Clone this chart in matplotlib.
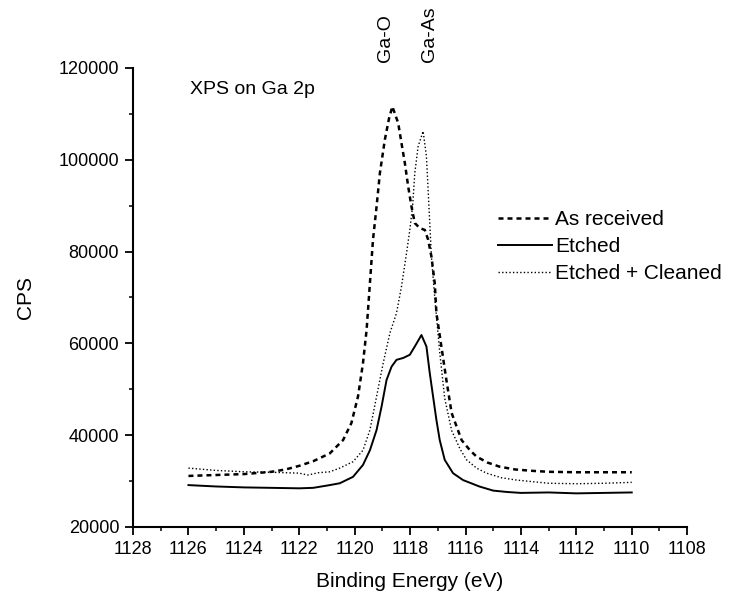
import matplotlib
matplotlib.use("Agg")
import matplotlib.pyplot as plt
from matplotlib.ticker import MultipleLocator

plt.rcParams['font.family'] = ['Liberation Sans', 'DejaVu Sans']

# Binding energy (eV) and counts per second for each sample
be_as_received = [1126.0, 1125.0, 1124.0, 1123.0, 1122.5, 1122.0, 1121.5, 1120.9,
                  1120.42, 1120.12, 1119.88, 1119.7, 1119.57, 1119.45, 1119.34,
                  1119.21, 1119.09, 1118.91, 1118.76, 1118.64, 1118.43, 1118.31,
                  1118.19, 1118.07, 1117.95, 1117.83, 1117.65, 1117.47, 1117.35,
                  1117.23, 1117.11, 1117.05, 1116.87, 1116.69, 1116.5, 1116.14,
                  1115.84, 1115.6, 1115.2, 1114.76, 1114.2, 1113.57, 1113.0,
                  1112.0, 1111.0, 1110.0]
cps_as_received = [31100, 31300, 31500, 32000, 32500, 33300, 34300, 36000,
                   38900, 42600, 48400, 55700, 62900, 73100, 82500,
                   89800, 97100, 104400, 109000, 111600, 108000, 103600,
                   99300, 94200, 89800, 86200, 85100, 84700, 82600,
                   78900, 73100, 66600, 59300, 52000, 44800, 38900,
                   36700, 35300, 34000, 33100, 32500, 32200, 32000,
                   31900, 31900, 31900]

be_etched = [1126.0, 1125.0, 1124.0, 1123.0, 1122.0, 1121.5, 1120.9, 1120.54,
             1120.06, 1119.7, 1119.45, 1119.21, 1119.03, 1118.85, 1118.67,
             1118.49, 1118.25, 1118.01, 1117.83, 1117.59, 1117.41, 1117.29,
             1117.17, 1117.05, 1116.93, 1116.75, 1116.45, 1116.09, 1115.5,
             1115.0, 1114.5, 1114.0, 1113.0, 1112.0, 1111.0, 1110.0]
cps_etched = [29100, 28800, 28600, 28500, 28400, 28500, 29100, 29500,
              30900, 33500, 36700, 41100, 46200, 52000, 54900,
              56400, 56800, 57500, 59300, 61800, 59300, 53500,
              48400, 43300, 38900, 34600, 31700, 30200, 28800,
              27900, 27600, 27400, 27500, 27300, 27400, 27500]

be_cleaned = [1126.0, 1125.0, 1124.0, 1123.0, 1122.0, 1121.7, 1121.3, 1120.9,
              1120.54, 1120.06, 1119.7, 1119.45, 1119.21, 1118.97, 1118.73,
              1118.49, 1118.31, 1118.13, 1118.01, 1117.91, 1117.83, 1117.71,
              1117.53, 1117.41, 1117.35, 1117.29, 1117.23, 1117.11, 1116.93,
              1116.75, 1116.5, 1116.2, 1115.96, 1115.6, 1115.24, 1114.7,
              1114.16, 1113.0, 1112.0, 1111.0, 1110.0]
cps_cleaned = [32800, 32300, 32000, 31900, 31700, 31300, 31800, 32000,
               32800, 34200, 36700, 41100, 48400, 55700, 62200,
               66600, 72400, 79600, 84700, 89800, 97100, 102900,
               106200, 100700, 93500, 86200, 78900, 70000, 58000,
               48000, 41000, 37000, 34600, 32800, 31700, 30700,
               30200, 29500, 29400, 29500, 29700]

series_labels = ["As received", "Etched", "Etched + Cleaned"]
x_ticks = [1128, 1126, 1124, 1122, 1120, 1118, 1116, 1114, 1112, 1110, 1108]
y_ticks = [20000, 40000, 60000, 80000, 100000, 120000]
peak_labels = ["Ga-O", "Ga-As"]
peak_positions = [1118.90, 1117.31]

fig = plt.figure(figsize=(7.31, 5.96), dpi=100)
ax = fig.add_axes([0.182, 0.116, 0.758, 0.770])

ax.plot(be_as_received, cps_as_received, color='black', lw=1.8,
        linestyle=(0, (2.0, 1.6)), label=series_labels[0])
ax.plot(be_etched, cps_etched, color='black', lw=1.4,
        linestyle='-', label=series_labels[1])
ax.plot(be_cleaned, cps_cleaned, color='black', lw=1.0,
        linestyle=(0, (1.0, 1.6)), label=series_labels[2])

ax.set_xlim(1128, 1108)
ax.set_ylim(20000, 120000)
ax.set_xticks(x_ticks)
ax.set_xticklabels([str(t) for t in x_ticks])
ax.set_yticks(y_ticks)
ax.set_yticklabels([str(t) for t in y_ticks])
ax.xaxis.set_minor_locator(MultipleLocator(1))
ax.yaxis.set_minor_locator(MultipleLocator(10000))

for side in ('top', 'right'):
    ax.spines[side].set_visible(False)
for side in ('left', 'bottom'):
    ax.spines[side].set_linewidth(1.5)

ax.tick_params(which='major', direction='out', length=6, width=1.3,
               labelsize=13, pad=4)
ax.tick_params(which='minor', direction='out', length=3, width=1.1)

ax.set_xlabel("Binding Energy (eV)", fontsize=15, labelpad=10)
ax.set_ylabel("CPS", fontsize=15, labelpad=17)

ax.text(1125.95, 115300, "XPS on Ga 2p", fontsize=14, ha='left', va='center')

for lbl, pos in zip(peak_labels, peak_positions):
    ax.annotate(lbl, xy=(pos, 1.0), xycoords=('data', 'axes fraction'),
                xytext=(0, 4), textcoords='offset points',
                rotation=90, ha='center', va='bottom', fontsize=14)

ax.legend(loc='upper left', bbox_to_anchor=(498 / 731, 1 - 210 / 596),
          bbox_transform=fig.transFigure, frameon=False, fontsize=15,
          handlelength=2.6, handletextpad=0.15, labelspacing=0.38,
          borderaxespad=0, borderpad=0)

fig.savefig("out.png", dpi=100)
